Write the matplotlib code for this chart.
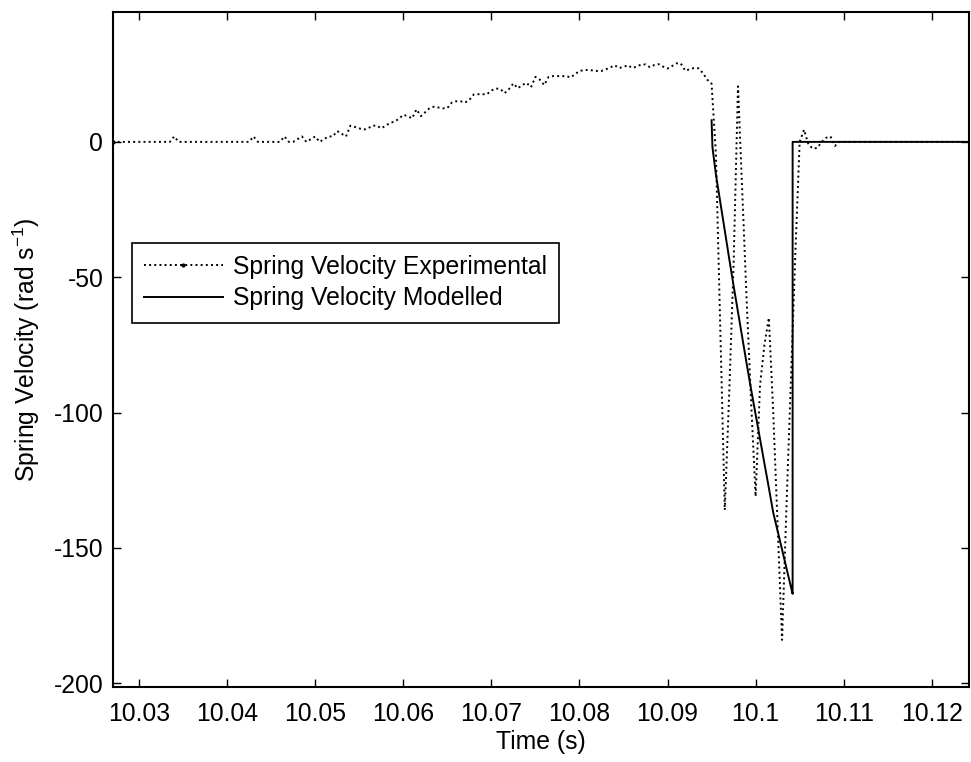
import matplotlib
matplotlib.use("Agg")
import matplotlib.pyplot as plt
import numpy as np

# experimental signal, sampled every 0.5 ms from t = 10.027 s
t_start = 10.027
dt = 0.0005
exp_vel = (
    [0] * 14 + [2] + [0] * 17 + [2] + [0] * 6 + [2, 0, 0, 1, 2, 0, 1, 2, 0, 1, 2, 2, 4, 3, 2]
    + [6, 5.5, 5, 4.5, 5, 6, 6, 5, 6, 7, 7.5, 8.5, 10, 9.5, 8.7, 12, 9.5, 11, 12.5, 13]
    + [12.7, 12.4, 12.5, 14.5, 15, 15, 14.5, 15.5, 17.5, 17.6, 17.6, 17.6, 19, 19.7, 19.6, 18]
    + [19.5, 21.6, 19.8, 21, 21.8, 20.2, 24, 23, 21, 24, 24.3, 24.3, 24.3, 24.3, 23.8, 25]
    + [26.2, 26.5, 26.6, 26.4, 26.2, 26.2, 26.8, 27.5, 28.3, 27.3, 27.7, 28.3, 27.3, 27.8]
    + [28.6, 28.6, 27.6, 28.4, 28.7, 27.8, 27.1, 28, 29, 29, 26.3, 26.8, 27.3, 27.2, 25.5, 23]
    + [21.5, -5, -70, -136, -93, -45, 20.5, -20, -60, -97, -131, -90, -75, -65, -100, -142]
    + [-184, -135, -88, -42, 0, 4.5, -1, -2.5, -2.2, 0, 1.5, 2, -1.5, 0] + [0] * 29
)

# modelled signal
model_t = [10.0950, 10.0951, 10.0955, 10.0960, 10.0965, 10.0970, 10.0975, 10.0980,
           10.0985, 10.0990, 10.0995, 10.1000, 10.1005, 10.1010, 10.1015, 10.1020,
           10.1025, 10.1030, 10.1035, 10.1040, 10.1042, 10.1042, 10.1242]
model_vel = [8, -2, -12.2, -22.5, -32.8, -43.1, -53.2, -62.9, -72.6, -82.3, -91.7,
             -100.7, -109.8, -118.8, -127.8, -137, -143.8, -150.6, -157.5, -164.3,
             -167, 0, 0]

x_ticks = [10.03, 10.04, 10.05, 10.06, 10.07, 10.08, 10.09, 10.1, 10.11, 10.12]
x_tick_labels = ["10.03", "10.04", "10.05", "10.06", "10.07", "10.08", "10.09",
                 "10.1", "10.11", "10.12"]
y_ticks = [-200, -150, -100, -50, 0]


def main():
    plt.rcParams["font.family"] = ["Liberation Sans", "DejaVu Sans"]
    plt.rcParams["mathtext.fontset"] = "custom"
    plt.rcParams["mathtext.rm"] = "Liberation Sans"
    plt.rcParams["mathtext.default"] = "regular"
    plt.rcParams["axes.unicode_minus"] = False
    fs = 17.8

    fig = plt.figure(figsize=(9.71, 7.62), dpi=100)
    ax = fig.add_axes([0.1164, 0.0988, 0.998 - 0.1164, 0.9843 - 0.0988])

    t_exp = t_start + dt * np.arange(len(exp_vel))
    ax.plot(t_exp, exp_vel, color="black", linestyle=":", linewidth=1.4,
            marker=".", markersize=4, markevery=len(exp_vel) + 1,
            label="Spring Velocity Experimental")
    ax.plot(model_t, model_vel, color="black", linestyle="-", linewidth=1.4,
            label="Spring Velocity Modelled")

    ax.set_xlim(10.02705, 10.12423)
    ax.set_ylim(-201.3, 48)
    ax.set_xticks(x_ticks)
    ax.set_xticklabels(x_tick_labels)
    ax.set_yticks(y_ticks)
    ax.tick_params(direction="in", length=6, width=1, top=True, right=True,
                   labelsize=fs, colors="black")
    ax.tick_params(axis="x", pad=11)
    ax.tick_params(axis="y", pad=7)
    for s in ax.spines.values():
        s.set_linewidth(1.5)
        s.set_color("black")

    ax.set_xlabel("Time (s)", fontsize=fs, labelpad=3)
    ax.set_ylabel(r"Spring Velocity (rad s$^{-1}$)", fontsize=fs, labelpad=8)

    leg = ax.legend(loc="upper left", bbox_to_anchor=(131.5 / 971, 1 - 242.5 / 762),
                    bbox_transform=fig.transFigure, fontsize=fs, numpoints=1,
                    handlelength=3.2, handletextpad=0.4, labelspacing=0.3,
                    borderpad=0.5, borderaxespad=0, fancybox=False, framealpha=1)
    leg.get_frame().set_edgecolor("black")
    leg.get_frame().set_linewidth(1.2)

    fig.savefig("out.png", dpi=100)


if __name__ == "__main__":
    main()
